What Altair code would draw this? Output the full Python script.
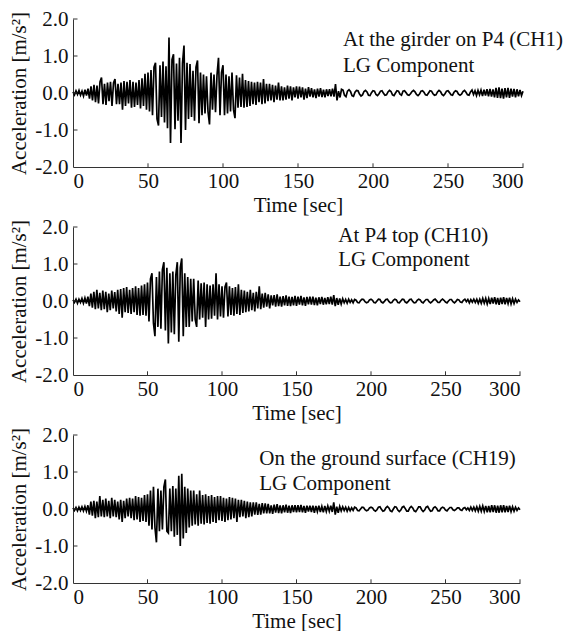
import altair as alt
import pandas as pd

# ---- data (acceleration in m/s^2, sampled every 1 s, t = 0..300) ----
time_s = list(range(0, 301))

ch1 = [
    0.03, -0.05, 0.06, -0.04, 0.07, -0.06, 0.05, -0.08, 0.09, -0.07,
    0.12, -0.15, 0.18, -0.2, 0.22, -0.25, 0.2, -0.28, 0.3, 0.42,
    -0.3, 0.25, -0.32, 0.28, -0.22, 0.3, -0.35, 0.27, 0.38, -0.3,
    0.25, -0.3, 0.28, -0.45, 0.32, -0.35, 0.3, -0.28, 0.35, -0.4,
    0.3, -0.38, 0.28, -0.32, 0.35, -0.42, 0.4, -0.35, 0.52, -0.45,
    0.55, -0.5, 0.62, -0.6, 0.7, 0.82, -0.7, -0.88, 0.75, -0.65,
    0.85, -0.8, 0.72, -0.95, 1.5, -1.35, 0.9, 1.05, -0.98, 0.8,
    -0.75, 0.95, -1.35, 0.8, 1.28, -1.0, 0.82, -0.7, 0.78, -0.65,
    0.6, -0.75, 0.7, 0.88, -0.82, 0.55, -0.6, 0.5, -0.55, 0.45,
    -0.5, -0.85, 0.55, -0.45, 0.5, -0.52, 0.48, 0.95, -0.6, 0.55,
    0.75, -0.6, 0.5, -0.55, 0.45, -0.5, 0.55, -0.45, -0.68, 0.48,
    -0.4, 0.42, -0.38, 0.52, -0.4, 0.35, -0.38, 0.32, -0.35, 0.3,
    -0.3, 0.28, -0.32, 0.3, -0.25, 0.28, -0.3, 0.38, -0.28, 0.25,
    -0.22, 0.25, -0.2, 0.22, -0.25, 0.2, -0.18, 0.28, -0.2, 0.18,
    -0.2, 0.15, -0.18, 0.2, -0.15, 0.18, -0.2, 0.15, -0.12, 0.18,
    -0.15, 0.17, -0.12, 0.15, -0.18, 0.12, -0.14, 0.16, -0.1, 0.13,
    -0.12, 0.1, -0.14, 0.12, -0.1, 0.13, -0.11, 0.09, -0.12, 0.1,
    -0.08, 0.1, -0.09, 0.12, -0.1, 0.24, -0.2, 0.05, -0.12, 0.1,
    0.08, -0.06, -0.1, 0.05, 0.09, 0.04, -0.07, -0.09, 0.02, 0.07,
    0.06, -0.03, -0.08, -0.05, 0.04, 0.07, 0.03, -0.06, -0.07, 0.01,
    0.06, 0.05, -0.04, -0.07, -0.02, 0.05, 0.06, -0.01, -0.06, -0.05,
    0.03, 0.07, 0.04, -0.05, -0.07, 0.0, 0.06, 0.05, -0.03, -0.06,
    0.05, 0.06, 0.01, -0.05, -0.06, -0.02, 0.04, 0.07, 0.03, -0.04,
    -0.07, -0.03, 0.05, 0.06, 0.02, -0.05, -0.06, 0.0, 0.06, 0.05,
    -0.02, -0.06, -0.05, 0.03, 0.07, 0.04, -0.04, -0.07, -0.02, 0.05,
    0.06, 0.01, -0.05, -0.06, 0.02, 0.06, 0.04, -0.03, -0.06, -0.03,
    0.04, 0.07, 0.02, -0.05, -0.06, 0.03, 0.08, -0.04, 0.06, -0.07,
    0.07, -0.05, 0.08, -0.08, 0.09, -0.07, 0.1, -0.09, 0.11, -0.1,
    0.1, -0.12, 0.14, -0.13, 0.15, -0.14, 0.12, -0.15, 0.13, -0.12,
    0.14, -0.13, 0.12, -0.1, 0.11, -0.12, 0.1, -0.09, 0.08, -0.07, 0.05,
]

ch10 = [
    0.03, -0.04, 0.05, -0.06, 0.05, -0.04, 0.07, -0.06, 0.08, -0.07,
    0.12, -0.14, 0.2, -0.18, 0.25, -0.22, 0.3, -0.2, 0.22, -0.25,
    0.28, -0.22, 0.25, -0.3, 0.2, -0.25, 0.28, -0.2, 0.24, -0.28,
    0.3, -0.35, 0.32, -0.45, 0.35, -0.3, 0.38, -0.32, 0.3, -0.35,
    0.35, -0.3, 0.4, -0.38, 0.35, -0.4, 0.42, -0.38, 0.45, -0.4,
    0.5, -0.55, 0.6, 0.75, -0.6, -0.95, 0.65, -0.7, 0.8, -0.75,
    0.85, 1.05, -0.8, 0.9, -1.15, 0.75, -0.85, 0.8, -0.9, 0.7,
    1.05, -1.1, 0.9, 1.15, -0.95, 0.75, -0.7, 0.65, -0.7, 0.6,
    -0.55, 0.6, -0.5, -0.7, 0.55, -0.5, 0.48, -0.45, 0.5, -0.7,
    0.45, -0.5, 0.42, -0.48, 0.45, -0.4, 0.75, -0.5, 0.45, -0.42,
    0.4, -0.45, 0.38, 0.5, -0.42, 0.4, -0.38, 0.35, -0.4, 0.38,
    -0.35, 0.45, -0.38, 0.3, -0.32, 0.28, -0.3, 0.25, -0.28, 0.3,
    -0.25, 0.22, -0.28, 0.25, -0.2, 0.4, -0.22, 0.2, -0.18, 0.22,
    -0.15, 0.18, -0.2, 0.15, -0.12, 0.16, -0.15, 0.18, -0.14, 0.12,
    -0.15, 0.13, -0.12, 0.15, -0.13, 0.12, -0.14, 0.11, -0.12, 0.14,
    -0.13, 0.12, -0.1, 0.14, -0.12, 0.1, -0.13, 0.11, -0.09, 0.12,
    -0.1, 0.12, -0.11, 0.09, -0.12, 0.1, -0.08, 0.11, -0.1, 0.08,
    -0.09, 0.1, -0.08, 0.12, -0.1, 0.16, -0.14, 0.08, -0.1, 0.07,
    -0.08, 0.06, -0.05, 0.04, -0.06, 0.05, -0.04, 0.03, -0.05, 0.04,
    0.02, -0.04, -0.05, 0.01, 0.05, 0.04, -0.02, -0.05, -0.03, 0.03,
    0.05, 0.02, -0.04, -0.05, 0.0, 0.05, 0.04, -0.03, -0.05, -0.01,
    0.04, 0.05, -0.01, -0.05, -0.04, 0.02, 0.05, 0.03, -0.04, -0.05,
    0.0, 0.05, 0.04, -0.03, -0.05, -0.01, 0.04, 0.05, -0.01, -0.05,
    -0.04, 0.02, 0.05, 0.03, -0.03, -0.05, 0.0, 0.04, 0.04, -0.02,
    -0.05, -0.02, 0.03, 0.05, 0.01, -0.04, -0.04, 0.02, 0.05, 0.02,
    -0.03, -0.05, 0.0, 0.04, 0.04, -0.02, -0.05, -0.01, 0.04, 0.03,
    -0.03, -0.04, 0.02, 0.05, -0.02, 0.04, -0.05, 0.04, -0.03, 0.05,
    -0.04, 0.05, -0.06, 0.05, -0.06, 0.07, -0.06, 0.07, -0.08, 0.07,
    -0.08, 0.09, -0.07, 0.1, -0.09, 0.08, -0.1, 0.09, -0.08, 0.1,
    -0.09, 0.08, -0.07, 0.09, -0.08, 0.06, -0.07, 0.05, -0.04, 0.03, -0.02,
]

ch19 = [
    0.03, -0.04, 0.04, -0.05, 0.05, -0.04, 0.06, -0.05, 0.07, -0.06,
    0.1, -0.15, 0.2, -0.18, 0.22, -0.25, 0.2, -0.22, 0.35, -0.2,
    0.25, -0.22, 0.28, -0.2, 0.22, -0.25, 0.3, -0.2, 0.25, -0.22,
    0.2, -0.28, 0.25, -0.35, 0.22, -0.25, 0.28, -0.2, 0.3, -0.25,
    0.28, -0.3, 0.35, -0.28, 0.32, -0.35, 0.3, -0.32, 0.38, -0.35,
    0.4, -0.45, 0.5, -0.55, 0.6, -0.5, -0.9, 0.55, -0.6, 0.5,
    -0.55, 0.6, 0.8, -0.6, -0.65, 0.55, -0.6, 0.62, -0.75, 0.55,
    -0.7, 0.9, -1.0, 0.95, -0.8, 0.6, -0.65, 0.55, -0.5, 0.5,
    -0.45, 0.5, -0.42, 0.4, -0.45, 0.5, -0.4, 0.38, -0.42, 0.4,
    -0.38, 0.35, -0.4, 0.38, -0.35, 0.32, -0.38, 0.35, -0.3, 0.35,
    -0.32, 0.3, -0.35, 0.28, -0.3, 0.32, -0.28, 0.3, -0.25, 0.28,
    -0.35, 0.25, -0.22, 0.25, -0.2, 0.22, -0.25, 0.2, -0.22, 0.18,
    -0.2, 0.18, -0.15, 0.18, -0.16, 0.14, -0.15, 0.16, -0.12, 0.15,
    -0.12, 0.14, -0.12, 0.1, -0.13, 0.12, -0.1, 0.13, -0.11, 0.1,
    -0.12, 0.1, -0.09, 0.12, -0.1, 0.09, -0.11, 0.1, -0.08, 0.1,
    -0.09, 0.1, -0.08, 0.11, -0.09, 0.08, -0.1, 0.09, -0.07, 0.09,
    -0.08, 0.09, -0.1, 0.08, -0.07, 0.09, -0.08, 0.07, -0.09, 0.08,
    -0.07, 0.08, -0.06, 0.09, -0.08, 0.18, -0.15, 0.06, -0.1, 0.07,
    -0.05, 0.06, -0.04, 0.05, -0.06, 0.04, -0.05, 0.03, -0.04, 0.05,
    0.03, -0.04, -0.05, 0.0, 0.05, 0.04, -0.02, -0.05, -0.03, 0.03,
    0.05, 0.03, -0.03, -0.06, -0.02, 0.05, 0.06, -0.01, -0.06, -0.04,
    0.03, 0.07, 0.03, -0.05, -0.07, 0.0, 0.06, 0.05, -0.03, -0.07,
    -0.03, 0.05, 0.07, 0.01, -0.06, -0.06, 0.03, 0.07, 0.03, -0.05,
    -0.07, -0.01, 0.06, 0.06, -0.02, -0.07, -0.03, 0.05, 0.07, 0.0,
    -0.06, -0.05, 0.03, 0.06, 0.02, -0.05, -0.05, 0.02, 0.05, 0.03,
    -0.03, -0.05, 0.0, 0.04, 0.04, -0.02, -0.04, -0.01, 0.03, 0.03,
    -0.02, -0.04, 0.02, 0.04, -0.02, 0.03, -0.04, 0.05, -0.04, 0.05,
    -0.05, 0.06, -0.06, 0.07, -0.06, 0.08, -0.07, 0.08, -0.09, 0.08,
    -0.09, 0.1, -0.08, 0.1, -0.1, 0.09, -0.1, 0.1, -0.09, 0.1,
    -0.09, 0.08, -0.08, 0.09, -0.07, 0.06, -0.06, 0.05, -0.04, 0.03, -0.02,
]

panel_series = [ch1, ch10, ch19]
panel_labels = [
    ["At the girder on P4 (CH1)", "LG Component"],
    ["At P4 top (CH10)", "LG Component"],
    ["On the ground surface (CH19)", "LG Component"],
]
label_t = [180, 178, 125]
label_a = [[1.42, 0.74], [1.76, 1.12], [1.36, 0.68]]
panel_widths = [450, 447, 447]

x_ticks = [0, 50, 100, 150, 200, 250, 300]
y_ticks = [-2.0, -1.0, 0.0, 1.0, 2.0]
inner_x_ticks = [50, 100, 150, 200, 250, 300]
inner_y_ticks = [-1.0, 0.0, 1.0, 2.0]

FONT = "Liberation Serif"
FS = 21
xscale = alt.Scale(domain=[0, 300], nice=False, zero=False)
yscale = alt.Scale(domain=[-2, 2], nice=False)
xaxis = alt.Axis(values=x_ticks, title="Time [sec]", format="d")
yaxis = alt.Axis(
    values=y_ticks, title="Acceleration [m/s²]",
    labelExpr="datum.value < 0 ? '-' + format(-datum.value, '.1f') : format(datum.value, '.1f')",
)


def panel(i):
    df = pd.DataFrame({"t": time_s, "a": panel_series[i]})
    line = alt.Chart(df).mark_line(color="black", strokeWidth=1.7).encode(
        x=alt.X("t:Q", scale=xscale, axis=xaxis),
        y=alt.Y("a:Q", scale=yscale, axis=yaxis),
    )
    xt = alt.Chart(pd.DataFrame({"t": inner_x_ticks})).mark_rule(color="#333", strokeWidth=1).encode(
        x=alt.X("t:Q", scale=xscale, axis=xaxis),
        y=alt.datum(-2.0, scale=yscale, axis=yaxis),
        y2=alt.datum(-1.9),
    )
    yt = alt.Chart(pd.DataFrame({"a": inner_y_ticks})).mark_rule(color="#333", strokeWidth=1).encode(
        y=alt.Y("a:Q", scale=yscale, axis=yaxis),
        x=alt.datum(0, scale=xscale, axis=xaxis),
        x2=alt.datum(3),
    )
    tdf = pd.DataFrame({
        "t": [label_t[i], label_t[i]],
        "a": label_a[i],
        "label": panel_labels[i],
    })
    txt = alt.Chart(tdf).mark_text(
        align="left", baseline="middle", font=FONT, fontSize=FS, color="#111"
    ).encode(
        x=alt.X("t:Q", scale=xscale, axis=xaxis),
        y=alt.Y("a:Q", scale=yscale, axis=yaxis),
        text="label:N",
    )
    return alt.layer(line, xt, yt, txt).properties(width=panel_widths[i], height=148)


chart = alt.vconcat(panel(0), panel(1), panel(2), spacing=1).properties(
    padding={"left": 0, "top": 0, "right": 0, "bottom": 0}
).configure_axis(
    labelFont=FONT, labelFontSize=FS, labelColor="#111",
    titleFont=FONT, titleFontSize=FS, titleFontWeight="normal", titleColor="#111",
    grid=False, ticks=False, domainColor="#333", domainWidth=1,
    labelPadding=3,
).configure_axisY(
    titlePadding=5, labelPadding=5,
).configure_axisX(
    titlePadding=3,
).configure_view(stroke=None)

chart.save("out.html", embed_options={"renderer": "svg", "actions": False})
